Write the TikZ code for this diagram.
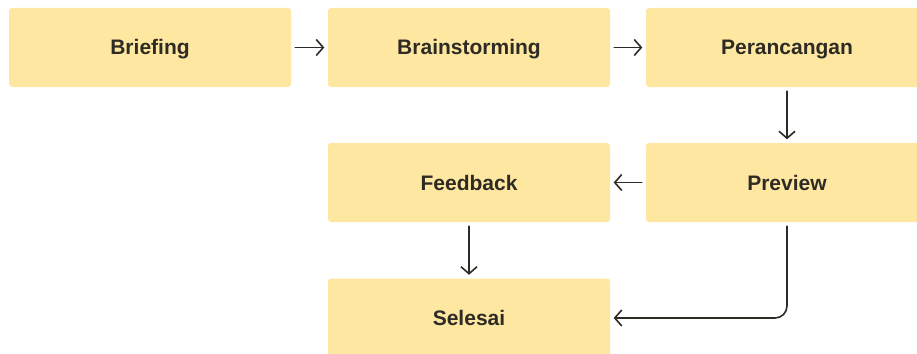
\documentclass[tikz,border=0pt]{standalone}
\usepackage{fontspec}
\setmainfont{Liberation Sans}
\usetikzlibrary{arrows.meta}
\definecolor{boxfill}{HTML}{FEE7A1}
\definecolor{ink}{HTML}{2E2A24}
\begin{document}
\begin{tikzpicture}[x=1pt,y=-1pt, line join=round, line cap=round,
  >={Straight Barb[length=7pt,width=16pt]},
  box/.style={fill=boxfill, rounded corners=3pt, minimum width=282pt, minimum height=79pt, inner sep=0pt, text=ink, text height=16.5pt, text depth=1.5pt, font=\fontsize{21}{24}\selectfont\bfseries},
  link/.style={->, draw=ink, line width=1.6pt, shorten <=4pt, shorten >=3.5pt}]
\def \w{917}
\def \h{353}
\useasboundingbox (0,0) rectangle (\w,\h);
\clip (0,0) rectangle (\w,\h);
% top row
\node[box] (briefing) at (150,47.5) {Briefing};
\node[box] (brainstorm) at (469,47.5) {Brainstorming};
\node[box] (rancang) at (787,47.5) {Perancangan};
% middle and bottom
\node[box] (feedback) at (469,182.5) {Feedback};
\node[box] (preview) at (787,182.5) {Preview};
\node[box] (selesai) at (469,318) {Selesai};
\draw[link] (briefing) -- (brainstorm);
\draw[link] (brainstorm) -- (rancang);
\draw[link] (rancang) -- (preview);
\draw[link] (preview) -- (feedback);
\draw[link] (feedback) -- (selesai);
\draw[link, rounded corners=12pt] (preview.south) |- (selesai.east);
\end{tikzpicture}
\end{document}
